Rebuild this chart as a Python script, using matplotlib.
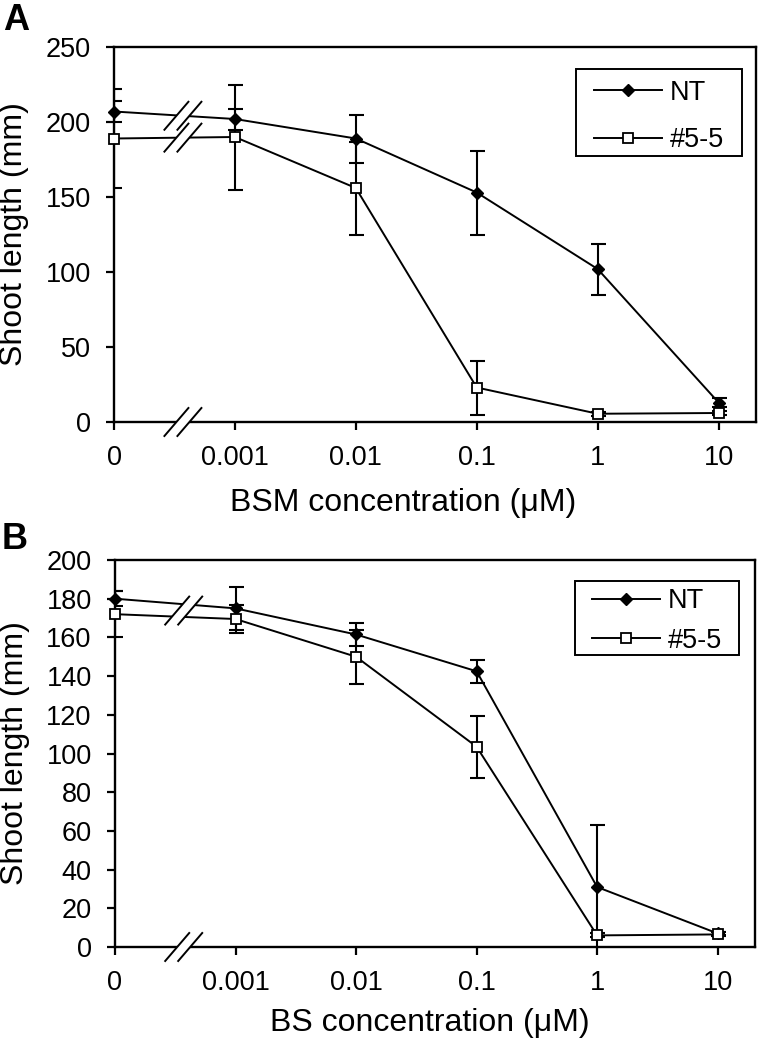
import matplotlib
matplotlib.use("Agg")
import matplotlib.pyplot as plt
from matplotlib.patches import Polygon, Rectangle
from matplotlib.lines import Line2D
import matplotlib.transforms as mtransforms

plt.rcParams['font.family'] = ['Liberation Sans', 'DejaVu Sans']

# ---------------- data ----------------
conc_labels = ["0", "0.001", "0.01", "0.1", "1", "10"]
series_names = ["NT", "#5-5"]

nt_bsm = [207, 202, 189, 153, 102, 13]
nt_bsm_err = [7, 7, 16, 28, 17, 3]
l55_bsm = [189, 190, 156, 23, 5.5, 6]
l55_bsm_err = [33, 35, 31, 18, 1.5, 1.5]

nt_bs = [180, 175, 161.5, 142.5, 31, 7]
nt_bs_err = [4, 11, 6, 6, 32, 1]
l55_bs = [172, 169.5, 150, 103.5, 6, 6.5]
l55_bs_err = [12, 7, 14, 16, 1, 1]

yticks_bsm = [0, 50, 100, 150, 200, 250]
yticks_bs = [0, 20, 40, 60, 80, 100, 120, 140, 160, 180, 200]

xlabel_bsm = "BSM concentration (μM)"
xlabel_bs = "BS concentration (μM)"
ylabel = "Shoot length (mm)"

# ---------------- figure ----------------
W, H = 759, 1060
fig = plt.figure(figsize=(W / 100, H / 100), dpi=100)

A_box = (114, 47, 756, 422)   # left, top, right, bottom in px
B_box = (115, 560, 755, 947)
axA = fig.add_axes([A_box[0] / W, 1 - A_box[3] / H, (A_box[2] - A_box[0]) / W, (A_box[3] - A_box[1]) / H])
axB = fig.add_axes([B_box[0] / W, 1 - B_box[3] / H, (B_box[2] - B_box[0]) / W, (B_box[3] - B_box[1]) / H])

x = list(range(len(conc_labels)))
BREAK_X = 0.57


def draw_break(ax, xc, yc):
    trans = fig.dpi_scale_trans + mtransforms.ScaledTranslation(xc, yc, ax.transData)
    dx, dy, sep = 0.12, 0.14, 0.065
    s1 = [(-sep - dx, -dy), (-sep + dx, dy)]
    s2 = [(sep - dx, -dy), (sep + dx, dy)]
    poly = Polygon([s1[0], s1[1], s2[1], s2[0]], closed=True, transform=trans,
                   facecolor='white', edgecolor='none', zorder=4, clip_on=False)
    ax.add_artist(poly)
    for s in (s1, s2):
        ln = Line2D([s[0][0], s[1][0]], [s[0][1], s[1][1]], transform=trans,
                    color='black', lw=1.4, zorder=5, clip_on=False)
        ax.add_artist(ln)


def panel(ax, box, nt, nt_err, l55, l55_err, yticks, xlabel, xlabel_pos, leg_px,
          labelspacing, merge_breaks, leg_shift_px):
    ax.errorbar(x, nt, yerr=nt_err, fmt='none', ecolor='black', elinewidth=1.5,
                capsize=5.4, capthick=1.5, zorder=2)
    ax.errorbar(x, l55, yerr=l55_err, fmt='none', ecolor='black', elinewidth=1.5,
                capsize=5.4, capthick=1.5, zorder=2)
    h1, = ax.plot(x, nt, color='black', lw=1.4, marker='D', markersize=5.8,
                  markerfacecolor='black', markeredgecolor='black', zorder=3,
                  clip_on=False, label=series_names[0])
    h2, = ax.plot(x, l55, color='black', lw=1.4, marker='s', markersize=7,
                  markerfacecolor='white', markeredgecolor='black', markeredgewidth=1.3,
                  zorder=3.1, clip_on=False, label=series_names[1])

    ax.set_xlim(0, 5.31)
    ax.set_ylim(yticks[0], yticks[-1])
    ax.set_xticks(x)
    ax.set_xticklabels(conc_labels)
    ax.set_yticks(yticks)
    ax.tick_params(direction='out', length=5.8, width=1.6, labelsize=19.5, pad=11,
                   top=False, right=False)
    for sp in ax.spines.values():
        sp.set_linewidth(1.7)

    ax.set_xlabel(xlabel, fontsize=23)
    ax.xaxis.set_label_coords(*xlabel_pos)
    ax.set_ylabel(ylabel, fontsize=23)
    ax.yaxis.set_label_coords(-0.133, 0.5)

    # break marks
    y_nt = nt[0] + BREAK_X * (nt[1] - nt[0])
    y_55 = l55[0] + BREAK_X * (l55[1] - l55[0])
    if merge_breaks:
        draw_break(ax, BREAK_X, (y_nt + y_55) / 2)
    else:
        draw_break(ax, BREAK_X, y_nt)
        draw_break(ax, BREAK_X, y_55)
    draw_break(ax, BREAK_X, yticks[0])

    # legend: frame drawn as a rectangle, entries centred inside it
    L, T, R, B = box
    lx0, ly0, lx1, ly1 = leg_px
    fx0 = (lx0 - L) / (R - L)
    fx1 = (lx1 - L) / (R - L)
    fy0 = (B - ly1) / (B - T)
    fy1 = (B - ly0) / (B - T)
    frame = Rectangle((fx0, fy0), fx1 - fx0, fy1 - fy0, transform=ax.transAxes,
                      facecolor='white', edgecolor='black', linewidth=1.4, zorder=6)
    ax.add_artist(frame)
    leg = ax.legend(handles=[h1, h2], loc='center',
                    bbox_to_anchor=((fx0 + fx1) / 2,
                                    (fy0 + fy1) / 2 - leg_shift_px / (B - T)),
                    borderaxespad=0, borderpad=0, fontsize=19.5, frameon=False,
                    labelspacing=labelspacing, handlelength=2.5, handletextpad=0.3)
    leg.set_zorder(7)


panel(axA, A_box, nt_bsm, nt_bsm_err, l55_bsm, l55_bsm_err, yticks_bsm, xlabel_bsm,
      (0.45, -0.175), (576, 69, 742, 156), 0.8, False, 4)
panel(axB, B_box, nt_bs, nt_bs_err, l55_bs, l55_bs_err, yticks_bs, xlabel_bs,
      (0.492, -0.158), (575, 581, 739, 655), 0.5, True, 3)

fig.text(3 / W, 1 - 3 / H, "A", fontsize=26, fontweight='bold', ha='left', va='top')
fig.text(2 / W, 1 - 522 / H, "B", fontsize=26, fontweight='bold', ha='left', va='top')

fig.savefig("out.png", dpi=100)
